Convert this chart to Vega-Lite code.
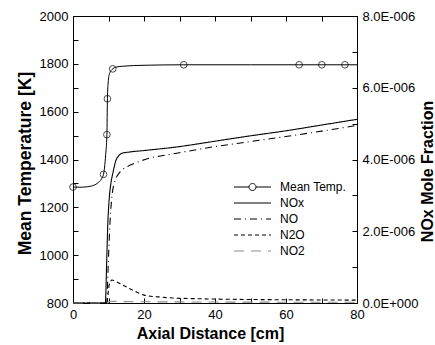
{
  "$schema": "https://vega.github.io/schema/vega-lite/v6.json",
  "width": 284,
  "height": 287,
  "autosize": {"type": "none"},
  "padding": {"left": 73, "top": 16, "right": 78, "bottom": 42},
  "background": "white",
  "config": {
    "view": {"stroke": null},
    "axis": {
      "grid": false,
      "domainColor": "black",
      "domainWidth": 1,
      "tickColor": "black",
      "tickWidth": 1,
      "tickSize": -5,
      "labelPadding": 10,
      "labelFont": "Liberation Sans",
      "labelFontSize": 13,
      "labelColor": "black",
      "titleFont": "Liberation Sans",
      "titleFontWeight": "bold",
      "titleColor": "black",
      "titleFontSize": 16
    },
    "legend": {
      "orient": "none",
      "legendX": 173.5,
      "legendY": 165,
      "padding": 0,
      "symbolType": "M-3.7,0L3.7,0",
      "symbolSize": 100,
      "symbolStrokeWidth": 1,
      "labelOffset": 21.5,
      "rowPadding": 4,
      "labelFont": "Liberation Sans",
      "labelFontSize": 12,
      "labelColor": "black"
    }
  },
  "datasets": {
    "temp": [
      {"x": 0, "T": 1285, "m": true},
      {"x": 2, "T": 1284, "m": false},
      {"x": 4, "T": 1286, "m": false},
      {"x": 6, "T": 1293, "m": false},
      {"x": 7, "T": 1302, "m": false},
      {"x": 8, "T": 1318, "m": false},
      {"x": 8.6, "T": 1338, "m": true},
      {"x": 9.2, "T": 1420, "m": false},
      {"x": 9.55, "T": 1504, "m": true},
      {"x": 9.7, "T": 1654, "m": true},
      {"x": 9.9, "T": 1720, "m": false},
      {"x": 10.3, "T": 1760, "m": false},
      {"x": 11.2, "T": 1779, "m": true},
      {"x": 12, "T": 1786, "m": false},
      {"x": 14, "T": 1790, "m": false},
      {"x": 20, "T": 1794, "m": false},
      {"x": 31.2, "T": 1796, "m": true},
      {"x": 50, "T": 1796, "m": false},
      {"x": 63.7, "T": 1796, "m": true},
      {"x": 70.1, "T": 1796, "m": true},
      {"x": 76.6, "T": 1796, "m": true},
      {"x": 80, "T": 1796, "m": false}
    ],
    "nox": [
      {"series": "NOx", "x": 0, "v": 0},
      {"series": "NOx", "x": 9.1, "v": 0},
      {"series": "NOx", "x": 9.5, "v": 1.2e-6},
      {"series": "NOx", "x": 9.8, "v": 2.2e-6},
      {"series": "NOx", "x": 10.2, "v": 2.9e-6},
      {"series": "NOx", "x": 10.7, "v": 3.35e-6},
      {"series": "NOx", "x": 11.3, "v": 3.65e-6},
      {"series": "NOx", "x": 12, "v": 3.95e-6},
      {"series": "NOx", "x": 13, "v": 4.12e-6},
      {"series": "NOx", "x": 14, "v": 4.18e-6},
      {"series": "NOx", "x": 16, "v": 4.21e-6},
      {"series": "NOx", "x": 20, "v": 4.25e-6},
      {"series": "NOx", "x": 30, "v": 4.36e-6},
      {"series": "NOx", "x": 40, "v": 4.51e-6},
      {"series": "NOx", "x": 50, "v": 4.66e-6},
      {"series": "NOx", "x": 60, "v": 4.8e-6},
      {"series": "NOx", "x": 70, "v": 4.96e-6},
      {"series": "NOx", "x": 80, "v": 5.12e-6},
      {"series": "NO", "x": 0, "v": 0},
      {"series": "NO", "x": 9.5, "v": 0},
      {"series": "NO", "x": 9.9, "v": 1.0e-6},
      {"series": "NO", "x": 10.4, "v": 2.2e-6},
      {"series": "NO", "x": 11, "v": 3.0e-6},
      {"series": "NO", "x": 12, "v": 3.45e-6},
      {"series": "NO", "x": 13, "v": 3.62e-6},
      {"series": "NO", "x": 14, "v": 3.72e-6},
      {"series": "NO", "x": 16, "v": 3.84e-6},
      {"series": "NO", "x": 18, "v": 3.92e-6},
      {"series": "NO", "x": 22, "v": 4.05e-6},
      {"series": "NO", "x": 26, "v": 4.12e-6},
      {"series": "NO", "x": 30, "v": 4.19e-6},
      {"series": "NO", "x": 40, "v": 4.36e-6},
      {"series": "NO", "x": 50, "v": 4.5e-6},
      {"series": "NO", "x": 60, "v": 4.64e-6},
      {"series": "NO", "x": 70, "v": 4.79e-6},
      {"series": "NO", "x": 80, "v": 4.95e-6},
      {"series": "N2O", "x": 0, "v": 0},
      {"series": "N2O", "x": 9.5, "v": 0},
      {"series": "N2O", "x": 10.2, "v": 0.5e-6},
      {"series": "N2O", "x": 11, "v": 0.64e-6},
      {"series": "N2O", "x": 12, "v": 0.6e-6},
      {"series": "N2O", "x": 14, "v": 0.5e-6},
      {"series": "N2O", "x": 16, "v": 0.4e-6},
      {"series": "N2O", "x": 18, "v": 0.3e-6},
      {"series": "N2O", "x": 20, "v": 0.22e-6},
      {"series": "N2O", "x": 24, "v": 0.17e-6},
      {"series": "N2O", "x": 28, "v": 0.14e-6},
      {"series": "N2O", "x": 35, "v": 0.12e-6},
      {"series": "N2O", "x": 40, "v": 0.11e-6},
      {"series": "N2O", "x": 60, "v": 0.09e-6},
      {"series": "N2O", "x": 80, "v": 0.08e-6},
      {"series": "NO2", "x": 0, "v": 0},
      {"series": "NO2", "x": 9.5, "v": 0},
      {"series": "NO2", "x": 10.5, "v": 0.05e-6},
      {"series": "NO2", "x": 14, "v": 0.04e-6},
      {"series": "NO2", "x": 30, "v": 0.03e-6},
      {"series": "NO2", "x": 80, "v": 0.02e-6}
    ]
  },
  "layer": [
    {
      "data": {"name": "temp"},
      "mark": {"type": "line", "color": "black", "strokeWidth": 1, "interpolate": "monotone"},
      "encoding": {
        "x": {
          "field": "x", "type": "quantitative",
          "scale": {"domain": [0, 80], "nice": false, "zero": false},
          "axis": {
            "orient": "bottom",
            "values": [0, 10, 20, 30, 40, 50, 60, 70, 80],
            "format": "d",
            "labelExpr": "datum.value % 20 == 0 ? datum.label : ''",
            "title": "Axial Distance [cm]",
            "titleX": 137,
            "titleY": 35,
            "titleBaseline": "alphabetic",
            "titleAlign": "center",
            "labelFlush": false,
            "labelOverlap": false
          }
        },
        "y": {
          "field": "T", "type": "quantitative",
          "scale": {"domain": [800, 2000], "nice": false, "zero": false},
          "axis": {
            "orient": "left",
            "values": [800, 900, 1000, 1100, 1200, 1300, 1400, 1500, 1600, 1700, 1800, 1900, 2000],
            "format": "d",
            "labelExpr": "datum.value % 200 == 0 ? datum.label : ''",
            "title": "Mean Temperature [K]",
            "titleFontSize": 17.5,
            "titleX": -48,
            "titleY": 147,
            "titleAngle": 270,
            "titleBaseline": "middle",
            "titleAlign": "center",
            "labelFlush": false,
            "labelOverlap": false
          }
        }
      }
    },
    {
      "data": {"name": "temp"},
      "transform": [{"filter": "datum.m"}],
      "mark": {"type": "point", "shape": "circle", "filled": false, "color": "black", "strokeWidth": 1, "size": 45},
      "encoding": {
        "x": {"field": "x", "type": "quantitative", "scale": {"domain": [0, 80], "nice": false, "zero": false}, "axis": null},
        "y": {"field": "T", "type": "quantitative", "scale": {"domain": [800, 2000], "nice": false, "zero": false}, "axis": null}
      }
    },
    {
      "data": {"name": "nox"},
      "mark": {"type": "line", "strokeWidth": 1.1, "interpolate": "monotone"},
      "encoding": {
        "x": {
          "field": "x", "type": "quantitative",
          "scale": {"domain": [0, 80], "nice": false, "zero": false},
          "axis": {
            "orient": "top",
            "values": [0, 10, 20, 30, 40, 50, 60, 70, 80],
            "labels": false,
            "title": null
          }
        },
        "y": {
          "field": "v", "type": "quantitative",
          "scale": {"domain": [0, 8e-6], "nice": false, "zero": true},
          "axis": {
            "orient": "right",
            "values": [0, 1e-6, 2e-6, 3e-6, 4e-6, 5e-6, 6e-6, 7e-6, 8e-6],
            "labelExpr": "round(datum.value*1e6) % 2 == 0 ? (datum.value == 0 ? '0.0E+000' : format(datum.value*1e6, '.1f') + 'E-006') : ''",
            "title": "NOx Mole Fraction",
            "titleX": 70,
            "titleY": 155,
            "titleAngle": 270,
            "titleBaseline": "middle",
            "titleAlign": "center",
            "labelFlush": false,
            "labelOverlap": false
          }
        },
        "detail": {"field": "series"},
        "color": {
          "field": "series", "type": "nominal",
          "scale": {"domain": ["Mean Temp.", "NOx", "NO", "N2O", "NO2"], "range": ["black", "black", "black", "black", "#8a8a8a"]},
          "legend": {"title": null}
        },
        "strokeDash": {
          "field": "series", "type": "nominal",
          "scale": {"domain": ["Mean Temp.", "NOx", "NO", "N2O", "NO2"], "range": [[1, 0], [1, 0], [7, 4, 1, 4], [4, 3], [10, 7]]},
          "legend": {
            "title": null,
            "encode": {
              "symbols": {
                "update": {
                  "fill": {"value": "transparent"},
                  "shape": {"signal": "datum.value === 'Mean Temp.' ? 'M-3.7,0L-0.7,0M0.7,0L3.7,0M0.7,0A0.7,0.7,0,1,1,-0.7,0A0.7,0.7,0,1,1,0.7,0' : 'M-3.7,0L3.7,0'"}
                }
              }
            }
          }
        }
      }
    }
  ],
  "resolve": {
    "scale": {"y": "independent"},
    "axis": {"x": "independent", "y": "independent"}
  }
}
